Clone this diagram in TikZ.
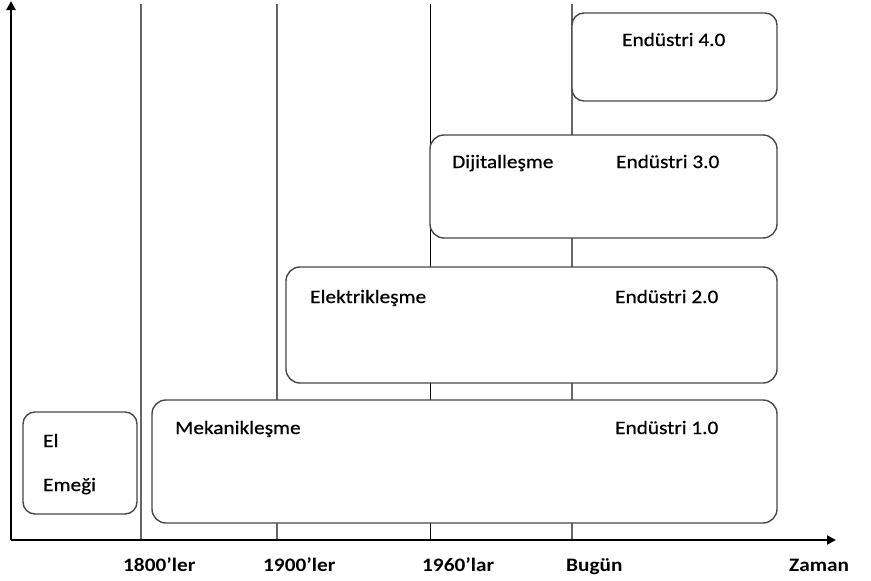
\documentclass[tikz,border=0pt]{standalone}
\usepackage{fontspec}
\setmainfont{Carlito}[FakeStretch=1.12]
\newfontfamily\lblfont{Carlito}[FakeStretch=1.12,FakeBold=0.6]
\usetikzlibrary{arrows.meta}
\begin{document}
\begin{tikzpicture}[x=1pt,y=-1pt,
  era/.style={draw=black!72, line width=1.4pt, fill=white, rounded corners=14pt, inner sep=0pt},
  gridline/.style={draw=black!60, line width=2.6pt},
  thinline/.style={draw=black, line width=1pt},
  axis/.style={draw=black, line width=2pt, -{Triangle[length=9pt,width=9pt]}},
  lbl/.style={anchor=base west, inner sep=0pt, font=\lblfont\fontsize{19}{22}\selectfont},
  axlbl/.style={anchor=base west, inner sep=0pt, font=\bfseries\fontsize{19}{22}\selectfont}
]
\useasboundingbox (0,0) rectangle (871,581);
% vertical time lines
\coordinate (t1800) at (141,4);  \coordinate (b1800) at (141,540);
\coordinate (t1900) at (277,4);  \coordinate (b1900) at (277,540);
\coordinate (t1960) at (430,4);  \coordinate (b1960) at (430,540);
\coordinate (tnow) at (572,4);   \coordinate (bnow) at (572,540);
\draw[gridline] (t1800) -- (b1800);
\draw[gridline] (t1900) -- (b1900);
\draw[thinline] (t1960) -- (b1960);
\draw[gridline] (tnow) -- (bnow);
% boxes
\node[era, rounded corners=12pt, minimum width=114pt, minimum height=102pt] (el) at (80,463) {};
\node[era, minimum width=625pt, minimum height=123pt] (e1) at (464.5,461.5) {};
\node[era, minimum width=491pt, minimum height=116pt] (e2) at (531.5,325) {};
\node[era, minimum width=347pt, minimum height=103pt] (e3) at (603.5,186.5) {};
\node[era, rounded corners=12pt, minimum width=205pt, minimum height=88pt] (e4) at (674.5,57) {};
% texts
\node[lbl] (tel) at (43,447) {El};
\node[lbl] (tem) at (43,491) {Emeği};
\node[lbl] (tmek) at (175,434) {Mekanikleşme};
\node[lbl] (te1) at (615,434) {Endüstri 1.0};
\node[lbl] (telk) at (310,303) {Elektrikleşme};
\node[lbl] (te2) at (615,303) {Endüstri 2.0};
\node[lbl] (tdij) at (452,168) {Dijitalleşme};
\node[lbl] (te3) at (616,168) {Endüstri 3.0};
\node[lbl] (te4) at (622,46) {Endüstri 4.0};
% axes
\coordinate (O) at (11,540);
\coordinate (ytop) at (11,1);
\coordinate (xend) at (836,540);
\draw[axis] (O) -- (ytop);
\draw[axis] (O) -- (xend);
% axis labels
\node[axlbl] (l1800) at (123,571) {1800’ler};
\node[axlbl] (l1900) at (263,571) {1900’ler};
\node[axlbl] (l1960) at (422,571) {1960’lar};
\node[axlbl] (lnow) at (566,571) {Bugün};
\node[axlbl] (lzam) at (789,571) {Zaman};
\end{tikzpicture}
\end{document}
